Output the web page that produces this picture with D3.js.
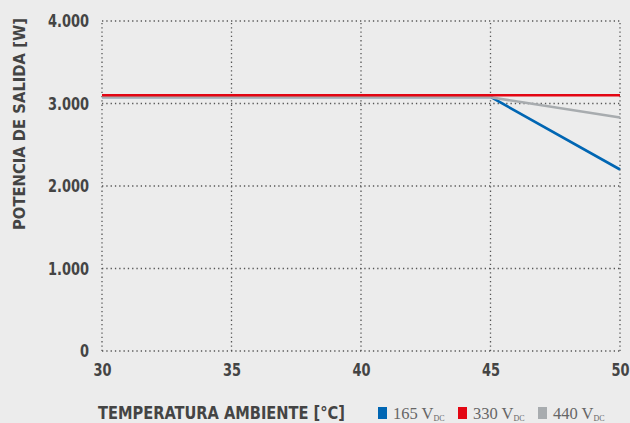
<!DOCTYPE html>
<html>
<head>
<meta charset="utf-8">
<script src="https://cdn.jsdelivr.net/npm/d3@7"></script>
<style>
  body { margin: 0; background: #ececec; }
  svg { display: block; background: #ececec; }
  .tick text, .title { font-family: "DejaVu Sans Condensed", "Open Sans", sans-serif; font-weight: bold; fill: #444; }
  .legend text { font-family: "Liberation Serif", serif; fill: #666; }
</style>
</head>
<body>
<div id="chart"></div>
<script>
// temperature (°C) and output power (W)
var temps = [30, 45, 50];
var series165 = [3080, 3080, 2200];
var series330 = [3100, 3100, 3100];
var series440 = [3075, 3075, 2830];
var xTicks = [30, 35, 40, 45, 50];
var yTicks = [0, 1000, 2000, 3000, 4000];
var seriesNames = ["165", "330", "440"];
var colors = ["#0066b3", "#e30613", "#a8acaf"];

var width = 630, height = 423;
var margin = {top: 21, right: 10, bottom: 72, left: 102};

var svg = d3.select("#chart").append("svg")
    .attr("width", width)
    .attr("height", height);

var x = d3.scaleLinear().domain([30, 50]).range([margin.left, width - margin.right]);
var y = d3.scaleLinear().domain([0, 4000]).range([height - margin.bottom, margin.top]);
var fmt = function(d) { return d3.format(",")(d).replace(/,/g, "."); };

// squeeze a text horizontally to fake a condensed face
function narrow(sel, k) {
    sel.each(function() {
        var w = this.getComputedTextLength();
        d3.select(this).attr("textLength", w * k).attr("lengthAdjust", "spacingAndGlyphs");
    });
}

// grid
var grid = svg.append("g").attr("stroke", "#555").attr("stroke-width", 1.3).attr("stroke-dasharray", "1.3,3");
grid.selectAll(".h").data(yTicks).enter().append("line")
    .attr("x1", margin.left).attr("x2", width - margin.right)
    .attr("y1", function(d) { return y(d); }).attr("y2", function(d) { return y(d); });
grid.selectAll(".v").data(xTicks).enter().append("line")
    .attr("y1", y(0)).attr("y2", y(4000))
    .attr("x1", function(d) { return x(d); }).attr("x2", function(d) { return x(d); });

// axes
var yAxis = d3.axisLeft(y).tickValues(yTicks).tickFormat(fmt).tickSize(0).tickPadding(13);
svg.append("g").attr("transform", "translate(" + margin.left + ",0)").call(yAxis)
    .call(function(g) { g.select(".domain").remove(); })
    .selectAll("text").attr("font-size", 18).call(narrow, 0.8);

var xAxis = d3.axisBottom(x).tickValues(xTicks).tickSize(0).tickPadding(12);
svg.append("g").attr("transform", "translate(0," + y(0) + ")").call(xAxis)
    .call(function(g) { g.select(".domain").remove(); })
    .selectAll("text").attr("font-size", 18).call(narrow, 0.8);

// lines
var line = d3.line()
    .x(function(d, i) { return x(temps[i]); })
    .y(function(d) { return y(d); });
var allSeries = [series165, series440, series330];
var allColors = [colors[0], colors[2], colors[1]];
svg.selectAll(".series").data(allSeries).enter().append("path")
    .attr("class", "series")
    .attr("fill", "none")
    .attr("stroke", function(d, i) { return allColors[i]; })
    .attr("stroke-width", 2.6)
    .attr("d", line);

// axis titles
svg.append("text").attr("class", "title")
    .attr("x", 98).attr("y", 419)
    .attr("font-size", 18)
    .attr("textLength", 247).attr("lengthAdjust", "spacingAndGlyphs")
    .text("TEMPERATURA AMBIENTE [°C]");

svg.append("text").attr("class", "title")
    .attr("transform", "translate(25,124) rotate(-90)")
    .attr("text-anchor", "middle")
    .attr("font-size", 16.5)
    .attr("textLength", 212).attr("lengthAdjust", "spacingAndGlyphs")
    .text("POTENCIA DE SALIDA [W]");

// legend
var legendX = [378, 458, 538];
var legend = svg.selectAll(".legend").data(seriesNames).enter().append("g")
    .attr("class", "legend")
    .attr("transform", function(d, i) { return "translate(" + legendX[i] + ",407)"; });
legend.append("rect").attr("width", 9).attr("height", 12)
    .attr("fill", function(d, i) { return colors[i]; });
var lt = legend.append("text").attr("x", 15).attr("y", 12).attr("font-size", 16.5);
lt.append("tspan").text(function(d) { return d + " V"; });
lt.append("tspan").attr("font-size", 8).attr("dy", 2).text("DC");
</script>
</body>
</html>
